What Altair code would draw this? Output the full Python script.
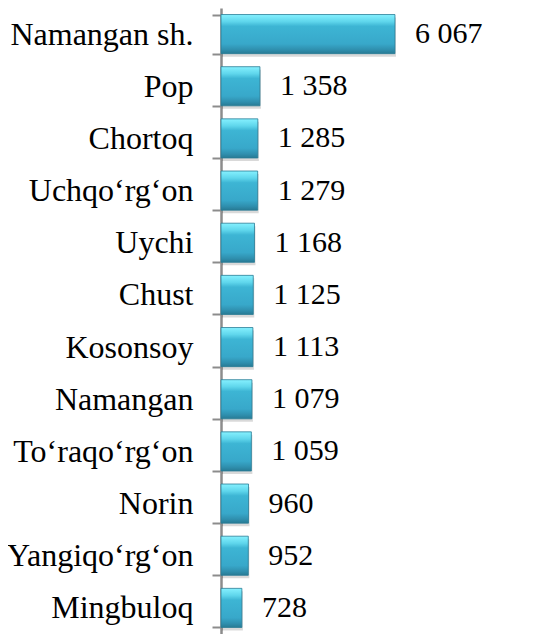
import altair as alt
import pandas as pd

regions = ["Namangan sh.", "Pop", "Chortoq", "Uchqo\u2018rg\u2018on", "Uychi", "Chust",
           "Kosonsoy", "Namangan\u00a0", "To\u2018raqo\u2018rg\u2018on", "Norin",
           "Yangiqo\u2018rg\u2018on", "Mingbuloq"]
values = [6067, 1358, 1285, 1279, 1168, 1125, 1113, 1079, 1059, 960, 952, 728]

df = pd.DataFrame({
    "region": regions,
    "value": values,
    "label": [f"{v:,}".replace(",", " ") for v in values],
})

FONT = "Liberation Serif"

y_enc = alt.Y(
    "region:N", sort=regions,
    scale=alt.Scale(paddingInner=0.25, paddingOuter=0.125),
    axis=alt.Axis(title=None, tickBand="extent", labelFont=FONT, labelFontSize=32,
                  labelColor="black", labelPadding=19, tickSize=9, tickColor="#8c8c8c",
                  tickWidth=2, domainColor="#8c8c8c", domainWidth=2.5, grid=False,
                  labelLimit=0),
)
x_enc = alt.X("value:Q", scale=alt.Scale(domain=[0, 10880]), axis=None)

base = alt.Chart(df)

shadow = base.mark_bar(color="#000000", opacity=0.15, yOffset=3, xOffset=1).encode(x=x_enc, y=y_enc)

grad = alt.Gradient(
    gradient="linear", x1=0, x2=0, y1=0, y2=1,
    stops=[
        alt.GradientStop(color="#86F1FF", offset=0),
        alt.GradientStop(color="#5FD6EC", offset=0.18),
        alt.GradientStop(color="#3DB5D4", offset=0.3),
        alt.GradientStop(color="#38A8CA", offset=0.75),
        alt.GradientStop(color="#2F8FAE", offset=0.9),
        alt.GradientStop(color="#277A94", offset=1),
    ],
)
bars = base.mark_bar(color=grad, stroke="#2A7C96", strokeWidth=0.8).encode(x=x_enc, y=y_enc)

labels = base.mark_text(align="left", baseline="middle", dx=20, font=FONT, fontSize=30,
                        color="black").encode(x=x_enc, y=y_enc, text="label:N")

chart = (shadow + bars + labels).properties(
    width=312, height=626,
    padding={"left": 213, "top": 0, "right": 0, "bottom": 0},
    autosize=alt.AutoSizeParams(type="none"),
).configure_view(strokeWidth=0)

chart.save("out.html", embed_options={"renderer": "svg", "actions": False})
